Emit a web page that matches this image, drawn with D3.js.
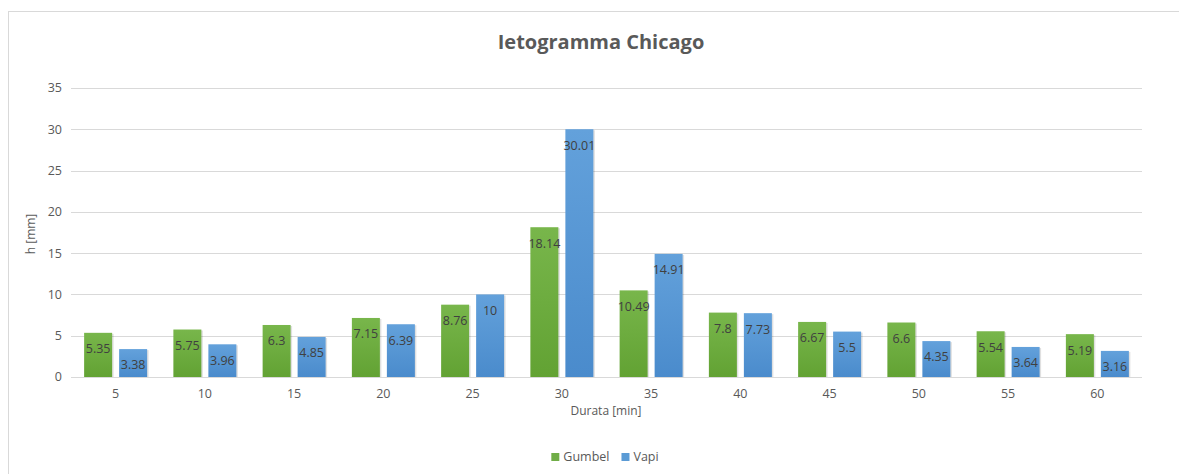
<!DOCTYPE html>
<html>
<head>
<meta charset="utf-8">
<script src="https://cdn.jsdelivr.net/npm/d3@7"></script>
<style>
  body { margin: 0; background: #fff; }
  text { font-family: "Open Sans", "Noto Sans", sans-serif; }
</style>
</head>
<body>
<div id="chart"></div>
<script>
const durations = ["5", "10", "15", "20", "25", "30", "35", "40", "45", "50", "55", "60"];
const gumbel = [5.35, 5.75, 6.3, 7.15, 8.76, 18.14, 10.49, 7.8, 6.67, 6.6, 5.54, 5.19];
const vapi = [3.38, 3.96, 4.85, 6.39, 10, 30.01, 14.91, 7.73, 5.5, 4.35, 3.64, 3.16];
const seriesNames = ["Gumbel", "Vapi"];
const yTicks = [0, 5, 10, 15, 20, 25, 30, 35];

const width = 1179, height = 474;
const plotLeft = 71, plotRight = 1142, plotTop = 88, plotBottom = 377;
const colors = ["#70ad47", "#5b9bd5"];

const svg = d3.select("#chart").append("svg")
    .attr("width", width)
    .attr("height", height);

// gradients for the bars
const defs = svg.append("defs");
const grads = [["gGreen", "#78b64b", "#62a233"], ["gBlue", "#63a1db", "#4a8bcc"]];
grads.forEach(g => {
    const lg = defs.append("linearGradient").attr("id", g[0])
        .attr("x1", 0).attr("y1", 0).attr("x2", 0).attr("y2", 1);
    lg.append("stop").attr("offset", "0%").attr("stop-color", g[1]);
    lg.append("stop").attr("offset", "100%").attr("stop-color", g[2]);
});

// outer frame
svg.append("rect")
    .attr("x", 8.5).attr("y", 11.5)
    .attr("width", 1200).attr("height", 500)
    .attr("fill", "none")
    .attr("stroke", "#d9d9d9");

const x = d3.scaleBand().domain(durations).range([plotLeft, plotRight]).paddingInner(0).paddingOuter(0);
const y = d3.scaleLinear().domain([0, 35]).range([plotBottom, plotTop]);

const barW = 28, gap = 7;
const offsets = [x.bandwidth() / 2 - gap / 2 - barW, x.bandwidth() / 2 + gap / 2];

// grid
svg.append("g").selectAll("line")
    .data(yTicks)
    .enter().append("line")
    .attr("x1", plotLeft).attr("x2", plotRight)
    .attr("y1", d => Math.round(y(d)) + 0.5)
    .attr("y2", d => Math.round(y(d)) + 0.5)
    .attr("stroke", "#d9d9d9")
    .attr("stroke-width", 1);

// y tick labels
svg.append("g").selectAll("text")
    .data(yTicks)
    .enter().append("text")
    .attr("x", 62)
    .attr("y", d => y(d))
    .attr("dy", "0.35em")
    .attr("text-anchor", "end")
    .attr("font-size", 12.5)
    .attr("fill", "#595959")
    .text(d => d);

// x tick labels
svg.append("g").selectAll("text")
    .data(durations)
    .enter().append("text")
    .attr("x", d => x(d) + x.bandwidth() / 2)
    .attr("y", 398)
    .attr("text-anchor", "middle")
    .attr("font-size", 12.5)
    .attr("fill", "#595959")
    .text(d => d);

// bars
[gumbel, vapi].forEach((vals, s) => {
    const g = svg.append("g");
    const bars = g.selectAll("g")
        .data(vals)
        .enter().append("g")
        .attr("transform", (d, i) => `translate(${x(durations[i]) + offsets[s]},0)`);

    // faint shadow
    bars.append("rect")
        .attr("x", 1.5)
        .attr("y", d => y(d) + 1)
        .attr("width", barW)
        .attr("height", d => plotBottom - y(d) - 1)
        .attr("fill", "#000")
        .attr("opacity", 0.12);

    bars.append("rect")
        .attr("x", 0)
        .attr("y", d => y(d))
        .attr("width", barW)
        .attr("height", d => plotBottom - y(d))
        .attr("fill", s === 0 ? "url(#gGreen)" : "url(#gBlue)");

    bars.append("text")
        .attr("x", barW / 2)
        .attr("y", d => y(d) + 16)
        .attr("dy", "0.35em")
        .attr("text-anchor", "middle")
        .attr("font-size", 12.5)
        .attr("fill", "#404040")
        .text(d => d);
});

// title
svg.append("text")
    .attr("x", 601).attr("y", 49)
    .attr("text-anchor", "middle")
    .attr("font-size", 20)
    .attr("font-weight", "bold")
    .attr("fill", "#595959")
    .text("Ietogramma Chicago");

// axis titles
svg.append("text")
    .attr("transform", "translate(35,234) rotate(-90)")
    .attr("text-anchor", "middle")
    .attr("font-size", 12)
    .attr("fill", "#595959")
    .text("h [mm]");

svg.append("text")
    .attr("x", 606).attr("y", 415)
    .attr("text-anchor", "middle")
    .attr("font-size", 12)
    .attr("fill", "#595959")
    .text("Durata [min]");

// legend, laid out from measured text widths and centred
const legend = svg.append("g");
const items = legend.selectAll("g")
    .data(seriesNames)
    .enter().append("g");
items.append("rect")
    .attr("y", -4)
    .attr("width", 8).attr("height", 8)
    .attr("fill", (d, i) => colors[i]);
items.append("text")
    .attr("x", 12)
    .attr("dy", "0.35em")
    .attr("font-size", 12.5)
    .attr("fill", "#595959")
    .text(d => d);
let cx = 0;
items.each(function () {
    const w = 12 + d3.select(this).select("text").node().getComputedTextLength();
    d3.select(this).attr("transform", `translate(${cx},0)`);
    cx += w + 12;
});
const totalW = cx - 12;
legend.attr("transform", `translate(${605 - totalW / 2},457)`);
</script>
</body>
</html>
